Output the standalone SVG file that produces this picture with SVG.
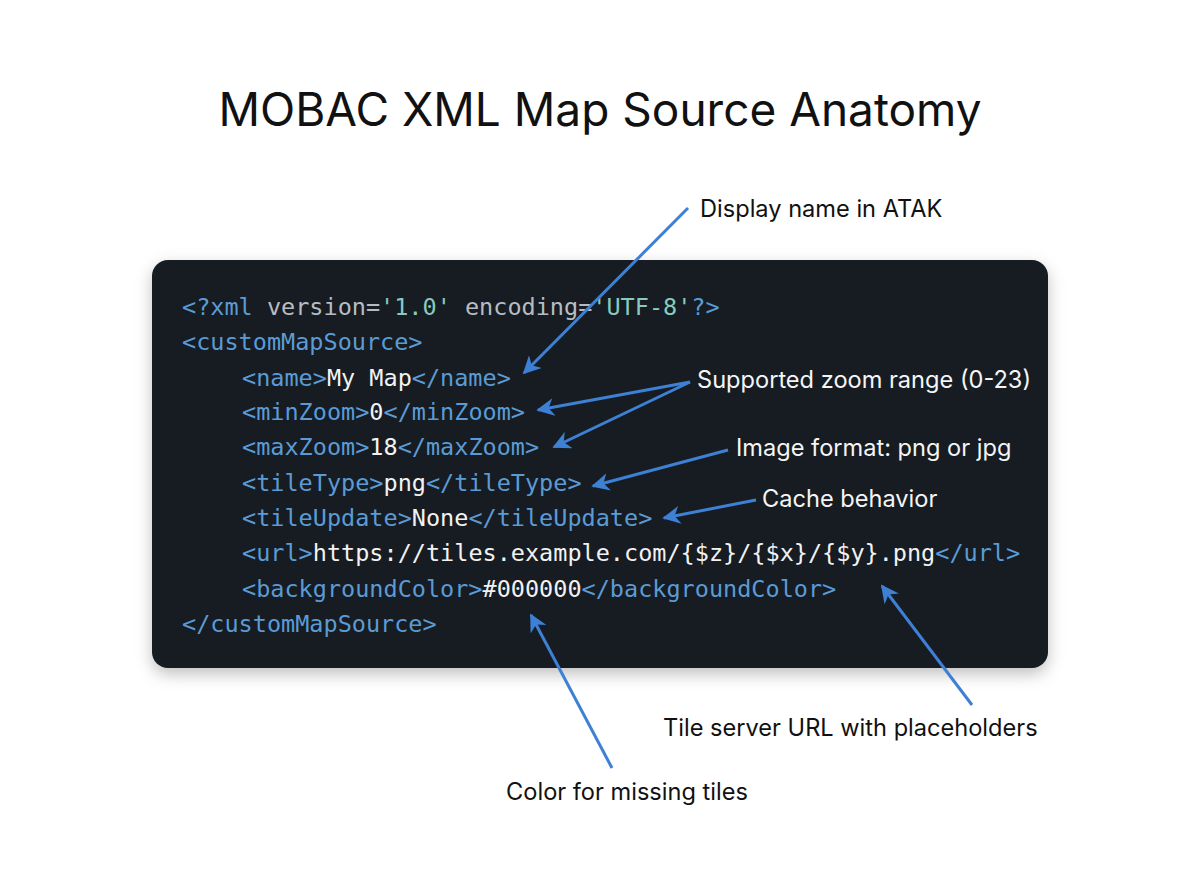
<svg xmlns="http://www.w3.org/2000/svg" width="1200" height="896" viewBox="0 0 1200 896">
<style>
.t{font-family:"DejaVu Sans Mono",monospace;font-size:23.5px;fill:#5b9bd5}
.w{fill:#f2f2f2}.g{fill:#b8bcc2}.s{fill:#86cbbd}
.l{font-family:Inter,"Liberation Sans",sans-serif;font-size:23.6px;fill:#111}
.lw{fill:#f5f5f5}
.a{stroke:#3d80d4;stroke-width:3;fill:none;marker-end:url(#ah)}
</style>
<defs>
<marker id="ah" viewBox="0 0 10 10" refX="9" refY="5" markerWidth="6" markerHeight="6" orient="auto"><path d="M0,0L10,5L0,10L3,5Z" fill="#3d80d4"/></marker>
<filter id="sh" x="-10%" y="-10%" width="120%" height="130%"><feDropShadow dx="0" dy="6" stdDeviation="8" flood-opacity="0.25"/></filter>
</defs>
<rect width="1200" height="896" fill="#fff"/>
<text x="600" y="126" text-anchor="middle" font-family="Inter,'Liberation Sans',sans-serif" font-size="46" fill="#111">MOBAC XML Map Source Anatomy</text>
<g id="card">
<rect x="152" y="260" width="896" height="408" rx="16" fill="#161b22" filter="url(#sh)"/>
<text class="t" x="182" y="315">&lt;?xml <tspan class="g">version=</tspan><tspan class="s">'1.0'</tspan><tspan class="g"> encoding=</tspan><tspan class="s">'UTF-8'</tspan>?&gt;</text>
<text class="t" x="182" y="350">&lt;customMapSource&gt;</text>
<text class="t" x="242" y="386">&lt;name&gt;<tspan class="w">My Map</tspan>&lt;/name&gt;</text>
<text class="t" x="242" y="420">&lt;minZoom&gt;<tspan class="w">0</tspan>&lt;/minZoom&gt;</text>
<text class="t" x="242" y="455">&lt;maxZoom&gt;<tspan class="w">18</tspan>&lt;/maxZoom&gt;</text>
<text class="t" x="242" y="491">&lt;tileType&gt;<tspan class="w">png</tspan>&lt;/tileType&gt;</text>
<text class="t" x="242" y="526">&lt;tileUpdate&gt;<tspan class="w">None</tspan>&lt;/tileUpdate&gt;</text>
<text class="t" x="242" y="561">&lt;url&gt;<tspan class="w">https://tiles.example.com/{$z}/{$x}/{$y}.png</tspan>&lt;/url&gt;</text>
<text class="t" x="242" y="597">&lt;backgroundColor&gt;<tspan class="w">#000000</tspan>&lt;/backgroundColor&gt;</text>
<text class="t" x="182" y="632">&lt;/customMapSource&gt;</text>
</g>
<g id="connectors">
<path class="a" d="M688,208L524,373"/>
<path class="a" d="M690,382L538,410"/>
<path class="a" d="M690,382L554,447"/>
<path class="a" d="M728,450L593,486"/>
<path class="a" d="M756,500L664,518"/>
<path class="a" d="M972,705L882,586"/>
<path class="a" d="M612,768L531,615"/>
</g>
<g id="labels">
<text class="l" x="700" y="217">Display name in ATAK</text>
<text class="l lw" x="697" y="388">Supported zoom range (0-23)</text>
<text class="l lw" x="736" y="456">Image format: png or jpg</text>
<text class="l lw" x="762" y="507">Cache behavior</text>
<text class="l" x="663" y="736">Tile server URL with placeholders</text>
<text class="l" x="627" y="800" text-anchor="middle">Color for missing tiles</text>
</g>
</svg>
